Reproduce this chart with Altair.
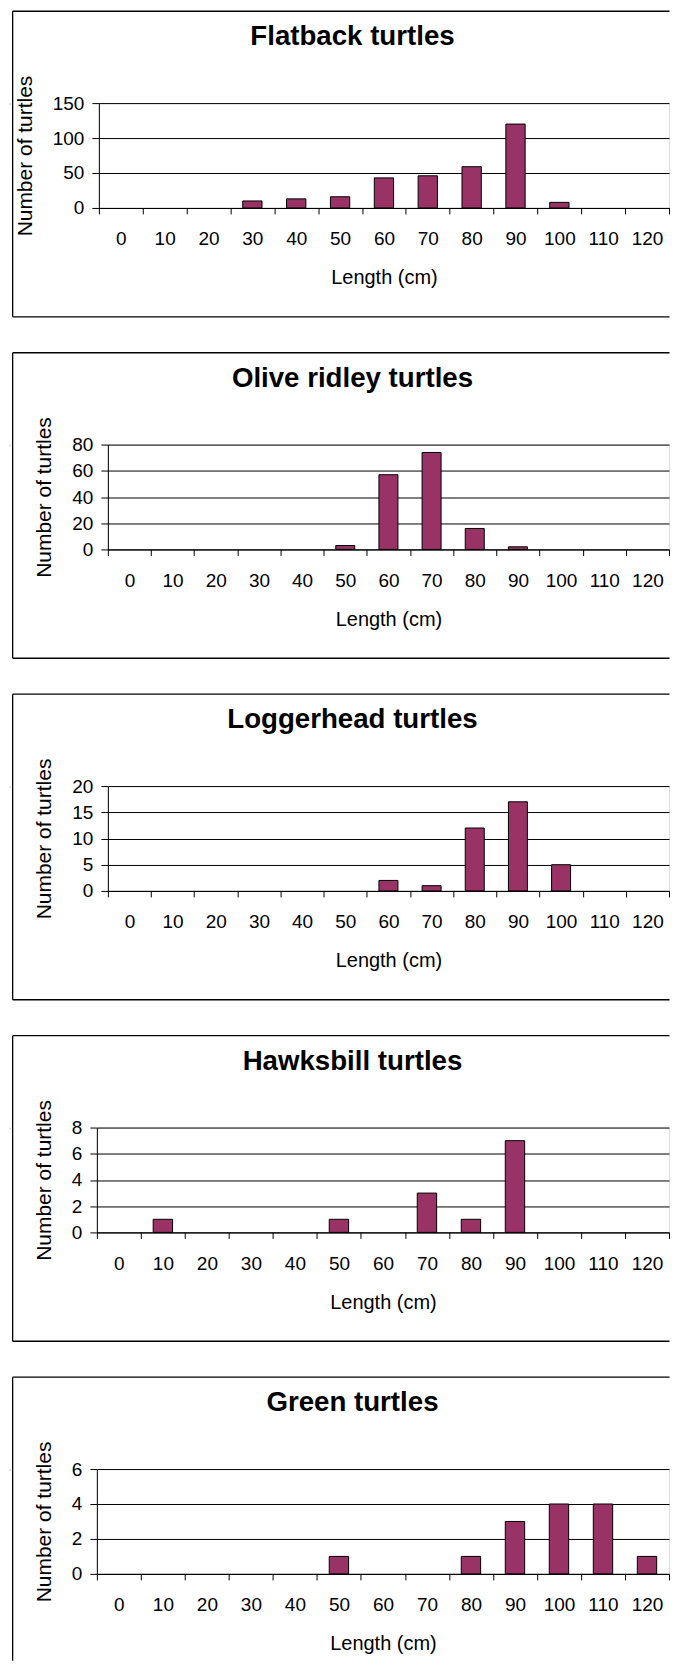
import altair as alt
import pandas as pd

# ---- data ----
lengths = ["0", "10", "20", "30", "40", "50", "60", "70", "80", "90", "100", "110", "120"]
species = ["Flatback turtles", "Olive ridley turtles", "Loggerhead turtles",
           "Hawksbill turtles", "Green turtles"]
flatback = [0, 0, 0, 10, 13, 16, 43, 46, 59, 120, 8, 0, 0]
olive_ridley = [0, 0, 0, 0, 0, 3, 57, 74, 16, 2, 0, 0, 0]
loggerhead = [0, 0, 0, 0, 0, 0, 2, 1, 12, 17, 5, 0, 0]
hawksbill = [0, 1, 0, 0, 0, 1, 0, 3, 1, 7, 0, 0, 0]
green = [0, 0, 0, 0, 0, 1, 0, 0, 1, 3, 4, 4, 1]
counts = [flatback, olive_ridley, loggerhead, hawksbill, green]
y_max = [150, 80, 20, 8, 6]
y_step = [50, 20, 5, 2, 2]

# ---- layout (page pixels) ----
plot_left = [96, 105, 105, 94, 94]
PLOT_RIGHT = 667
y_title_base = [29, 48, 48, 48, 48]
PLOT_H = 105
FONT = "Liberation Sans"
BAR = "#993366"


def panel(i):
    x0 = plot_left[i]
    W = PLOT_RIGHT - x0
    last = i == len(species) - 1
    df = pd.DataFrame({"Length": lengths, "Count": counts[i]})

    x = alt.X(
        "Length:O",
        sort=lengths,
        scale=alt.Scale(domain=lengths, paddingInner=0, paddingOuter=0),
        axis=alt.Axis(
            title="Length (cm)", labelAngle=0, tickBand="extent", grid=False,
            domainColor="black", domainWidth=1, tickColor="black", tickSize=6,
            labelPadding=31, labelBaseline="alphabetic", labelFontSize=19,
            labelColor="black", labelFont=FONT,
            titleFont=FONT, titleFontSize=20, titleFontWeight="normal",
            titleColor="black", titleBaseline="alphabetic", titleY=76,
        ),
    )
    y = alt.Y(
        "Count:Q",
        scale=alt.Scale(domain=[0, y_max[i]], nice=False, zero=True),
        axis=alt.Axis(
            title="Number of turtles",
            values=list(range(0, y_max[i] + 1, y_step[i])),
            grid=True, gridColor="black", gridWidth=1,
            domainColor="black", domainWidth=1, tickColor="black", tickSize=7,
            labelPadding=8, labelBaseline="middle", labelFontSize=19,
            labelColor="black", labelFont=FONT,
            titleFont=FONT, titleFontSize=21, titleFontWeight="normal",
            titleColor="black", titleX=y_title_base[i] - x0, titleY=PLOT_H / 2,
            titleAngle=270, titleAlign="center", titleBaseline="alphabetic",
        ),
    )
    bars = (
        alt.Chart(df)
        .transform_filter("datum.Count > 0")
        .mark_bar(width=alt.RelativeBandSize(0.44), fill=BAR, stroke="black", strokeWidth=1)
        .encode(x=x, y=y)
    )

    one = pd.DataFrame({"title": [species[i]]})
    fl = 9.65 - x0
    fr = 667.5 - x0
    ft = -92
    fb = 192 if last else 214
    rule = dict(color="black", strokeWidth=1.3)
    top_line = alt.Chart(one).mark_rule(**rule).encode(
        x=alt.value(fl), x2=alt.value(fr), y=alt.value(ft))
    left_line = alt.Chart(one).mark_rule(**rule).encode(
        x=alt.value(fl), y=alt.value(ft), y2=alt.value(fb))
    layers = [top_line, left_line]
    if not last:
        bottom_line = alt.Chart(one).mark_rule(**rule).encode(
            x=alt.value(fl), x2=alt.value(fr), y=alt.value(fb))
        layers.append(bottom_line)
    title = alt.Chart(one).mark_text(
        font=FONT, fontSize=27.7, fontWeight="bold", align="center",
        baseline="alphabetic", color="black",
    ).encode(x=alt.value(350 - x0), y=alt.value(-58), text="title:N")
    layers += [title, bars]

    chart = alt.layer(*layers).properties(width=W, height=PLOT_H)
    spacer = (
        alt.Chart(pd.DataFrame({"s": []}))
        .mark_point(opacity=0)
        .encode(x=alt.value(0), y=alt.value(0))
        .properties(width=1, height=1)
    )
    return alt.hconcat(spacer, chart, spacing=0)


chart = (
    alt.vconcat(*[panel(i) for i in range(len(species))], spacing=32)
    .properties(padding={"left": 0, "top": 0, "right": 0, "bottom": 0})
    .configure_view(stroke="transparent", strokeWidth=0)
    .configure(background="white")
)

chart.save("out.html", embed_options={"renderer": "svg", "actions": False})
